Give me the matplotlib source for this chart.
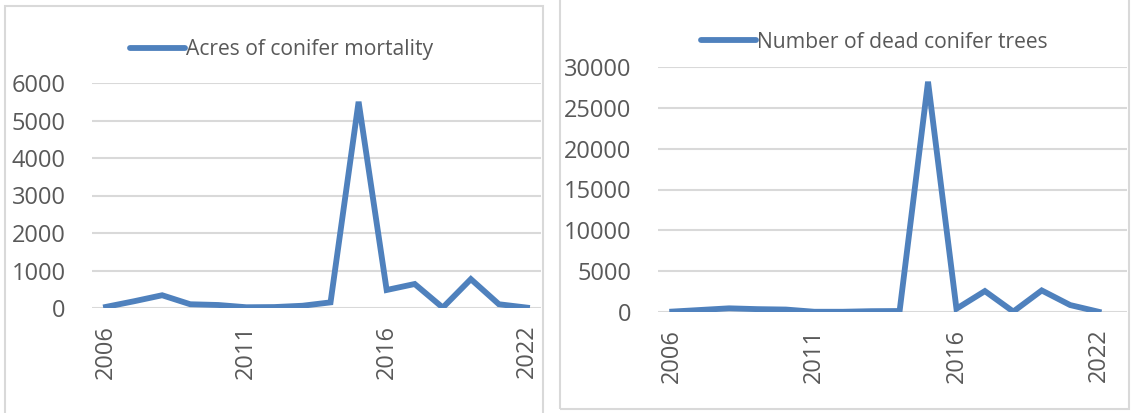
import matplotlib
matplotlib.use("Agg")
import matplotlib.pyplot as plt
from matplotlib.patches import Rectangle
from matplotlib.lines import Line2D

# no 2020 survey, so the category axis skips that year
years = [2006, 2007, 2008, 2009, 2010, 2011, 2012, 2013, 2014, 2015,
         2016, 2017, 2018, 2019, 2021, 2022]
acres = [30, 180, 340, 100, 80, 20, 25, 60, 150, 5500,
         480, 640, 10, 770, 100, 10]
trees = [50, 250, 450, 350, 300, 30, 30, 100, 120, 28200,
         400, 2560, 50, 2640, 850, 30]
label_idx = [0, 5, 10, 15]

BLUE = "#4f81bd"
GRID = "#d9d9d9"
TXT = "#595959"
W, H = 1132, 413

plt.rcParams["font.family"] = ["Open Sans", "DejaVu Sans"]

fig = plt.figure(figsize=(W / 100, H / 100), dpi=100)


def px(x0, y0, x1, y1):
    # pixel box (top-left origin) -> figure fraction rect
    return [x0 / W, 1 - y1 / H, (x1 - x0) / W, (y1 - y0) / H]


# chart frames
fig.patches.append(Rectangle((5 / W, -0.05), (543 - 5) / W, 1 - 6 / H + 0.05,
                             transform=fig.transFigure, fill=False,
                             edgecolor=GRID, lw=1.5))
fig.patches.append(Rectangle((560 / W, 1 - 409 / H), (1129 - 560) / W, 409 / H + 0.05,
                             transform=fig.transFigure, fill=False,
                             edgecolor=GRID, lw=1.5))


def panel(rect, vals, ymax, step, xmax, label, leg_xy):
    ax = fig.add_axes(rect)
    x = list(range(len(vals)))
    ax.plot(x, vals, color=BLUE, lw=4.2, solid_joinstyle="miter", zorder=3)
    ax.set_xlim(-0.5, xmax)
    ax.set_ylim(0, ymax)
    ax.set_yticks(range(0, ymax + 1, step))
    ax.set_xticks(label_idx)
    ax.set_xticklabels([str(years[i]) for i in label_idx], rotation=90)
    ax.grid(axis="y", color=GRID, lw=1.5)
    ax.set_axisbelow(True)
    for s in ax.spines.values():
        s.set_visible(False)
    ax.tick_params(length=0, labelsize=17, colors=TXT)
    ax.tick_params(axis="y", pad=19)
    ax.tick_params(axis="x", pad=12)
    h = Line2D([], [], color=BLUE, lw=4.2, solid_capstyle="round")
    fig.legend([h], [label], loc="center left",
               bbox_to_anchor=(leg_xy[0] / W, 1 - leg_xy[1] / H),
               frameon=False, fontsize=15.2, labelcolor=TXT,
               handlelength=2.6, handletextpad=0.05, borderpad=0,
               borderaxespad=0)
    return ax


panel(px(92, 83, 541, 308), acres, 6000, 1000, 15.5,
      "Acres of conifer mortality", (130, 50))
panel(px(658, 67, 1127, 312), trees, 30000, 5000, 16.0,
      "Number of dead conifer trees", (701, 42))

fig.savefig("out.png", dpi=100)
